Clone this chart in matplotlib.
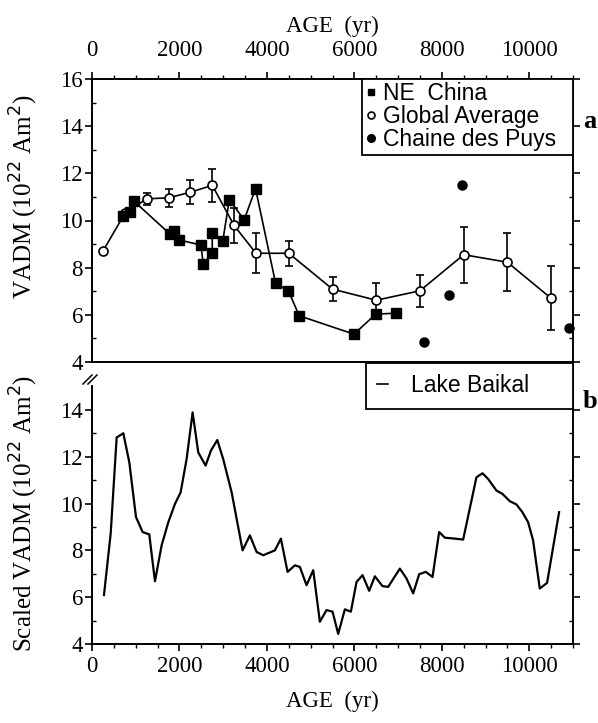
import matplotlib
matplotlib.use("Agg")
import matplotlib.pyplot as plt
from matplotlib.ticker import MultipleLocator, FixedLocator
from matplotlib.lines import Line2D

# global average (open circles with error bars)
ga_age = [250, 750, 1250, 1750, 2250, 2750, 3250, 3750, 4500, 5500, 6500, 7500, 8500, 9500, 10500]
ga_vadm = [8.7, 10.3, 10.92, 10.96, 11.2, 11.49, 9.79, 8.61, 8.61, 7.09, 6.62, 7.02, 8.55, 8.23, 6.7]
ga_err = [0.0, 0.0, 0.25, 0.37, 0.52, 0.7, 0.74, 0.85, 0.54, 0.52, 0.72, 0.67, 1.18, 1.24, 1.35]

# NE China (filled squares)
ne_age = [720, 870, 960, 1780, 1880, 1980, 2490, 2545, 2750, 2750, 2990, 3140,
          3480, 3740, 4200, 4490, 4740, 5990, 6490, 6960]
ne_vadm = [10.21, 10.35, 10.82, 9.43, 9.55, 9.18, 8.96, 8.16, 8.61, 9.46, 9.12, 10.88,
           10.03, 11.35, 7.33, 7.02, 5.96, 5.18, 6.03, 6.07]

# Chaine des Puys (filled circles)
cp_age = [7590, 8160, 8470, 10900]
cp_vadm = [4.85, 6.85, 11.49, 5.46]

# Lake Baikal scaled VADM
lb_age = [274, 427, 564, 716, 853, 1006, 1158, 1310, 1440, 1592, 1745, 1897, 2027, 2164,
          2301, 2430, 2598, 2720, 2865, 3000, 3193, 3444, 3611, 3764, 3916, 4183, 4320,
          4472, 4640, 4754, 4906, 5059, 5211, 5364, 5501, 5630, 5783, 5920, 6050, 6187,
          6339, 6469, 6644, 6773, 7040, 7192, 7345, 7482, 7634, 7787, 7939, 8069, 8297,
          8488, 8792, 8930, 9058, 9250, 9387, 9554, 9706, 9843, 9973, 10087, 10240,
          10407, 10682]
lb_vadm = [6.09, 8.71, 12.82, 13.0, 11.76, 9.42, 8.78, 8.68, 6.68, 8.21, 9.2, 9.98, 10.48,
           11.9, 13.89, 12.18, 11.62, 12.26, 12.71, 11.9, 10.48, 8.0, 8.64, 7.93, 7.79,
           8.0, 8.5, 7.08, 7.36, 7.29, 6.51, 7.15, 4.95, 5.45, 5.38, 4.43, 5.48, 5.38,
           6.65, 6.94, 6.27, 6.89, 6.47, 6.44, 7.22, 6.8, 6.16, 6.98, 7.08, 6.86, 8.78,
           8.54, 8.5, 8.46, 11.12, 11.29, 11.05, 10.55, 10.41, 10.1, 9.96, 9.63, 9.2,
           8.43, 6.37, 6.61, 9.63]

x_ticks = [0, 2000, 4000, 6000, 8000, 10000]
y_ticks = [4, 6, 8, 10, 12, 14, 16]

serif = "Liberation Serif"
sans = "Liberation Sans"
plt.rcParams["font.family"] = serif
plt.rcParams["axes.linewidth"] = 1.4

W, H = 598, 723
fig = plt.figure(figsize=(W / 100, H / 100), dpi=100)

def box(l, t, r, b):
    return [l / W, (H - b) / H, (r - l) / W, (b - t) / H]

ax1 = fig.add_axes(box(92, 79, 573, 362))
ax2 = fig.add_axes(box(92, 363, 573, 644))

TS = 16.5

# ---- panel a
ax1.errorbar(ga_age, ga_vadm, yerr=ga_err, color="black", lw=1.2, capsize=3,
             elinewidth=1.2, capthick=1.2, marker="o", ms=6.5, mfc="white",
             mec="black", mew=1.2, zorder=3)
ax1.plot(ne_age, ne_vadm, color="black", lw=1.2, marker="s", ms=7, zorder=4)
ax1.plot(cp_age, cp_vadm, ls="none", marker="o", ms=6.5, color="black",
         clip_on=False, zorder=4)

ax1.set_xlim(0, 11000)
ax1.set_ylim(4, 16)
ax1.xaxis.tick_top()
ax1.xaxis.set_label_position("top")
ax1.set_xticks(x_ticks)
ax1.set_xticklabels([str(v) for v in x_ticks], fontsize=TS)
ax1.xaxis.set_minor_locator(MultipleLocator(500))
ax1.set_yticks(y_ticks)
ax1.set_yticklabels([str(v) for v in y_ticks], fontsize=TS)
ax1.yaxis.set_minor_locator(MultipleLocator(1))
ax1.tick_params(axis="x", which="major", direction="out", length=5, width=1.2, pad=8)
ax1.tick_params(axis="x", which="minor", direction="out", length=3, width=1)
ax1.tick_params(axis="y", which="major", direction="out", length=5, width=1.2,
                right=True, pad=1.5)
ax1.tick_params(axis="y", which="minor", direction="in", length=3, width=1, right=True)
ax1.set_xlabel("AGE  (yr)", fontsize=16.5, labelpad=6)
ax1.set_ylabel("VADM (10$^{22}$ Am$^2$)", fontsize=18)
ax1.yaxis.set_label_coords((40 - 92) / 481, (362 - 197) / 283)

h1 = [Line2D([], [], ls="none", marker="s", ms=5, color="black"),
      Line2D([], [], ls="none", marker="o", ms=5, mfc="white", mec="black", mew=1.2),
      Line2D([], [], ls="none", marker="o", ms=5.5, color="black")]
leg1 = ax1.legend(h1, ["NE  China", "Global Average", "Chaine des Puys"],
                  loc="upper right", bbox_to_anchor=((362 - 92) / 481, 0, (573 - 362) / 481, 1),
                  mode="expand", prop={"family": sans, "size": 16.5},
                  handlelength=0.5, handletextpad=0.25, labelspacing=0.0,
                  borderaxespad=0, borderpad=0.15, fancybox=False,
                  edgecolor="black", framealpha=1)
leg1.get_frame().set_linewidth(1.3)
fig.text(590 / W, 1 - 122 / H, "a", fontsize=19, fontweight="bold",
         ha="center", va="center")

# ---- panel b
ax2.plot(lb_age, lb_vadm, color="black", lw=1.6)
ax2.set_xlim(0, 11000)
ax2.set_ylim(4, 16)
ax2.set_xticks(x_ticks)
ax2.set_xticklabels([str(v) for v in x_ticks], fontsize=TS)
ax2.xaxis.set_minor_locator(MultipleLocator(500))
ax2.set_yticks(y_ticks[:-1])
ax2.set_yticklabels([str(v) for v in y_ticks[:-1]], fontsize=TS)
ax2.yaxis.set_minor_locator(FixedLocator([5, 7, 9, 11, 13]))
ax2.spines["top"].set_visible(False)
ax2.spines["left"].set_bounds(4, 15.0)
ax2.tick_params(axis="x", which="major", direction="out", length=5, width=1.2)
ax2.tick_params(axis="x", which="minor", direction="out", length=3, width=1)
ax2.tick_params(axis="y", which="major", direction="out", length=5, width=1.2,
                right=True, pad=1.5)
ax2.tick_params(axis="y", which="minor", direction="in", length=3, width=1, right=True)
ax2.set_xlabel("AGE  (yr)", fontsize=16.5, labelpad=10)
ax2.set_ylabel("Scaled VADM (10$^{22}$ Am$^2$)", fontsize=18)
ax2.yaxis.set_label_coords((40 - 92) / 481, (644 - 513) / 281)

h2 = [Line2D([], [], color="black", lw=1.2)]
leg2 = ax2.legend(h2, ["Lake Baikal"], loc="upper right",
                  bbox_to_anchor=((366 - 92) / 481, 0, (573 - 366) / 481, 1),
                  mode="expand", prop={"family": sans, "size": 16.5},
                  handlelength=0.45, handletextpad=1.0, borderaxespad=0,
                  borderpad=0.5, fancybox=False, edgecolor="black", framealpha=1)
leg2.get_frame().set_linewidth(1.3)
fig.text(590 / W, 1 - 402 / H, "b", fontsize=19, fontweight="bold",
         ha="center", va="center")

# axis break marks
for dx in (0, 5):
    fig.add_artist(Line2D([(83 + dx) / W, (92 + dx) / W],
                          [1 - 384 / H, 1 - 375 / H], color="black", lw=1.1))

fig.savefig("out.png", dpi=100)
